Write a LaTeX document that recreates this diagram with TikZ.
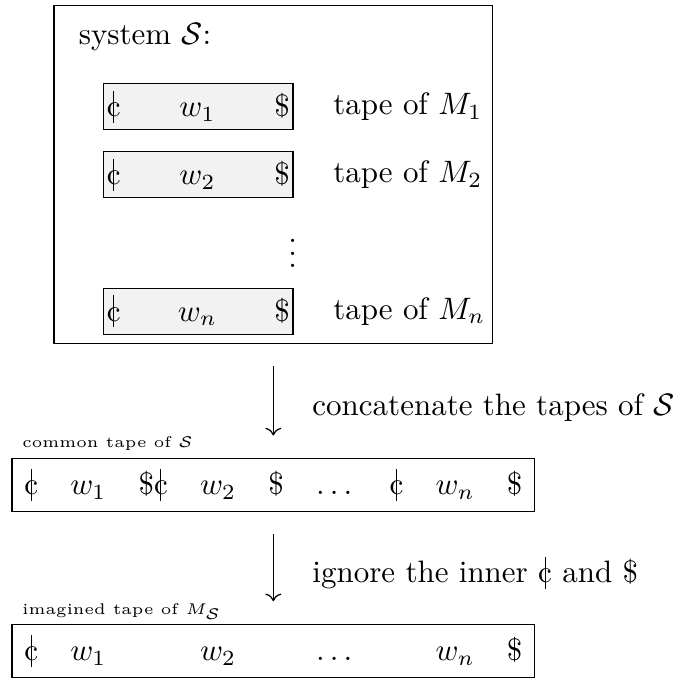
\documentclass[tikz,border=0pt]{standalone}
\usepackage{amsmath,amssymb}
\usepackage{tikz}
\usetikzlibrary{arrows.meta, positioning, calc}
% cent sign with a long bar, as on the tapes
\newcommand{\tcent}{\mbox{c\llap{\makebox[0.444em]{\rule[-1.9pt]{0.3pt}{10.3pt}}}}}
\newcommand{\tgap}{\hspace{10.4pt}}

\begin{document}
\begin{tikzpicture}[
  tape/.style={draw, fill=gray!10, inner sep=1pt, minimum height=14.8pt},
  longtape/.style={draw, minimum width=168.7pt, minimum height=17.1pt},
  tapename/.style={anchor=base west, font=\tiny}]
  \useasboundingbox (0,0) rectangle (7.68,-7.69);

  % System S with its tapes
  \node[draw, minimum width=141.6pt, minimum height=109pt] (sys) at (3.10,-1.98) {};
  \node[anchor=base west] (systitle) at (0.77,-0.50) {system $\mathcal{S}$:};
  \foreach \i/\y in {1/-1.21, 2/-1.98, n/-3.53} {
    \node[tape] (tape\i) at (2.25,\y) {\makebox[59pt]{\tcent\hfill$w_\i$\hfill\$}};
    \node[right=9.3pt of tape\i] (tapeof\i) {tape of $M_\i$};
  }
  \node (dots) at (3.32,-2.77) {$\vdots$};

  % Common tape
  \node[longtape] (common) at (3.10,-5.50)
    {\tcent\tgap $w_1$\tgap \$\tcent\tgap $w_2$\tgap \$\tgap $\dots$\tgap \tcent\tgap $w_n$\tgap \$};
  \node[tapename] (commonname) at (0.13,-5.08) {common tape of $\mathcal{S}$};

  % Imagined tape
  \node[longtape] (imagined) at (3.10,-7.38)
    {\tcent\tgap $w_1$\tgap \phantom{\$\tcent}\tgap $w_2$\tgap \phantom{\$}\tgap $\dots$\tgap \phantom{\tcent}\tgap $w_n$\tgap \$};
  \node[tapename] (imaginedname) at (0.13,-6.97) {imagined tape of $M_{\mathcal{S}}$};

  % Steps
  \draw[->, shorten <=7.2pt, shorten >=7.2pt] (sys.south) -- (common.north);
  \node[anchor=base west] (concat) at (3.42,-4.71) {concatenate the tapes of $\mathcal{S}$};
  \draw[->, shorten <=7.2pt, shorten >=7.2pt] (common.south) -- (imagined.north);
  \node[anchor=base west] (ignore) at (3.42,-6.61) {ignore the inner \tcent{} and \$};
\end{tikzpicture}
\end{document}
